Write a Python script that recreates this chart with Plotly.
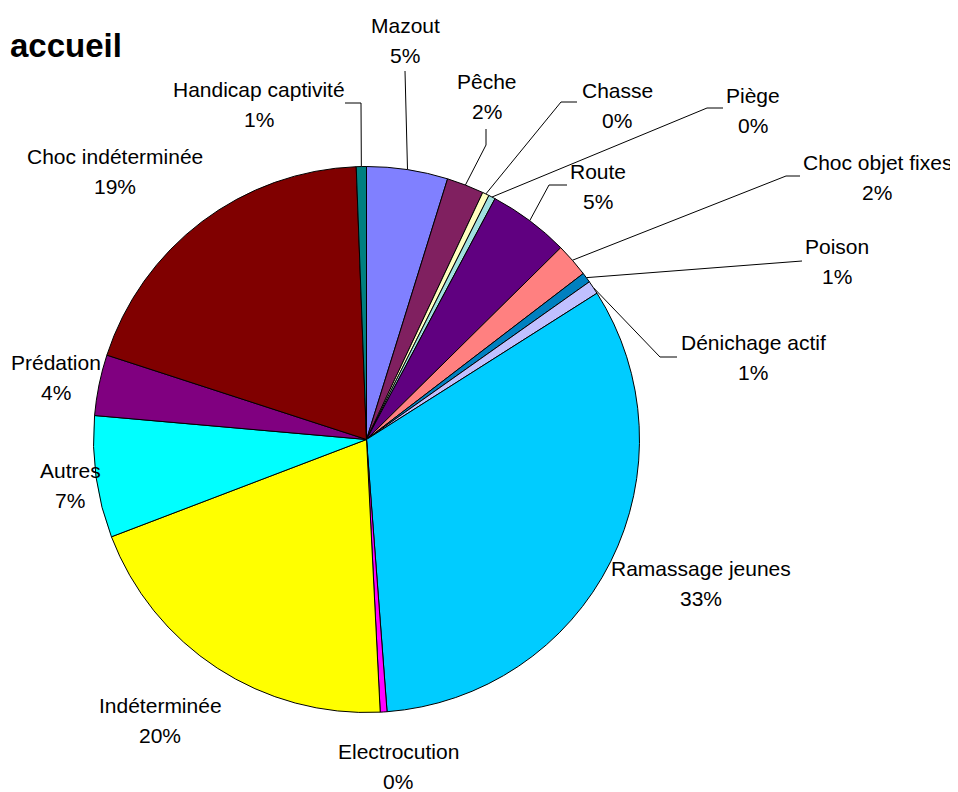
import math
import plotly.graph_objects as go

# ---- data ----
categories = ["Mazout", "Pêche", "Chasse", "Piège", "Route", "Choc objet fixes",
              "Poison", "Dénichage actif", "Ramassage jeunes", "Electrocution",
              "Indéterminée", "Autres", "Prédation", "Choc indéterminée",
              "Handicap captivité"]
values = [24, 11, 2, 2, 24, 10, 3, 4, 164, 2, 100, 36, 18, 97, 3]
colors = ["#8080FF", "#802060", "#FFFFC0", "#A0E0E0", "#600080", "#FF8080",
          "#0080C0", "#C0C0FF", "#00CCFF", "#FF00FF", "#FFFF00", "#00FFFF",
          "#800080", "#800000", "#008080"]

# ---- layout (page pixel positions of labels) ----
OX, OY = 8, 8            # page body margin
W, H = 950, 784          # figure size inside the 958x792 window
CX, CY, R = 366.5, 439.5, 273
label_x = [405, 487, 617, 753, 598, 877, 837, 753, 701, 398, 160, 70, 56, 115, 259]
label_base = [32, 88, 97, 102, 178, 169, 253, 349, 575, 758, 712, 477, 369, 163, 96]
LINE_GAP = 30
FS = 21
# leader elbows (label side), the pie end is computed from the slice angle
leaders = {
    "Handicap captivité": [(345, 103), (361, 103)],
    "Mazout": [(405, 71)],
    "Pêche": [(486, 129), (486, 145)],
    "Chasse": [(577, 102), (561, 102)],
    "Piège": [(723, 108), (707, 108)],
    "Route": [(567, 185), (549, 185)],
    "Choc objet fixes": [(800, 176), (786, 176)],
    "Poison": [(802, 261)],
    "Dénichage actif": [(677, 357), (660, 357)],
}

total = sum(values)
pct = [f"{round(v * 100 / total)}%" for v in values]

fig = go.Figure()
fig.add_trace(go.Pie(
    labels=categories, values=values, sort=False, direction="clockwise",
    rotation=0, textinfo="none", hoverinfo="label+percent",
    marker=dict(colors=colors, line=dict(color="black", width=1)),
    domain=dict(x=[(CX - R - OX) / W, (CX + R - OX) / W],
                y=[1 - (CY + R - OY) / H, 1 - (CY - R - OY) / H]),
    showlegend=False,
))

# leader lines
cum = 0
mid = {}
for c, v in zip(categories, values):
    mid[c] = (cum + v / 2) / total * 2 * math.pi
    cum += v
for c, pts in leaders.items():
    a = mid[c]
    ex, ey = CX + R * math.sin(a), CY - R * math.cos(a)
    xs = [p[0] for p in pts] + [ex]
    ys = [p[1] for p in pts] + [ey]
    fig.add_trace(go.Scatter(x=xs, y=ys, mode="lines", line=dict(color="black", width=1),
                             hoverinfo="skip", showlegend=False, xaxis="x", yaxis="y"))

font = dict(family="Liberation Sans, Arial", size=FS, color="black")
annotations = []
off = 0.32 * FS
for c, p, x, b in zip(categories, pct, label_x, label_base):
    annotations.append(dict(x=x, y=b - off, xref="x", yref="y", text=c, showarrow=False,
                            xanchor="center", yanchor="middle", font=font))
    annotations.append(dict(x=x, y=b + LINE_GAP - off, xref="x", yref="y", text=p,
                            showarrow=False, xanchor="center", yanchor="middle", font=font))
annotations.append(dict(x=OX, y=56 - 0.32 * 33, xref="x", yref="y", text="<b>accueil</b>",
                        showarrow=False, xanchor="left", yanchor="middle",
                        font=dict(family="Liberation Sans, Arial", size=33, color="black")))

fig.update_layout(
    width=W, height=H, margin=dict(l=0, r=0, t=0, b=0),
    paper_bgcolor="white", plot_bgcolor="rgba(0,0,0,0)",
    xaxis=dict(range=[OX, OX + W], visible=False, fixedrange=True),
    yaxis=dict(range=[OY + H, OY], visible=False, fixedrange=True),
    annotations=annotations,
)
fig.write_html("out.html")
